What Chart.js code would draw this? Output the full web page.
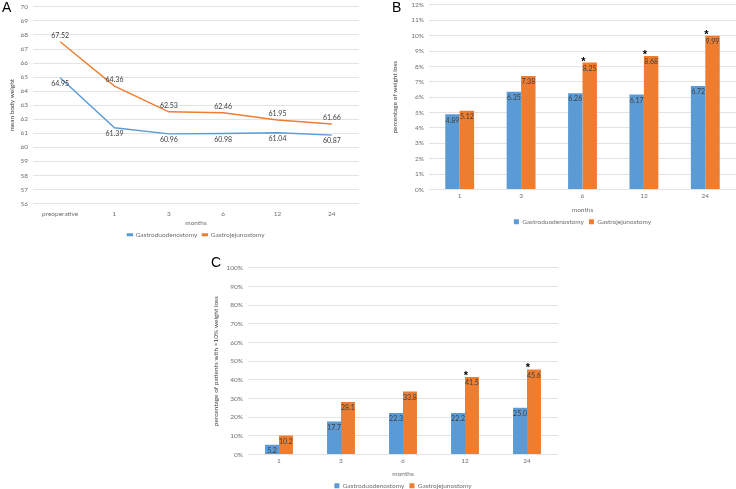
<!DOCTYPE html>
<html><head><meta charset="utf-8">
<script src="https://cdn.jsdelivr.net/npm/chart.js@4"></script>
<style>
html,body{margin:0;padding:0;background:#fff;}
#wrap{position:relative;width:736px;height:489px;overflow:hidden;}
.box{position:absolute;}
.letter{position:absolute;font-family:'Liberation Sans',Arial,sans-serif;font-size:14px;color:#000;line-height:14px;}
</style></head>
<body><div id="wrap">
<div class="box" style="left:0;top:-2px;width:368px;height:250px"><canvas id="cA"></canvas></div>
<div class="box" style="left:368px;top:-4px;width:368px;height:239px"><canvas id="cB"></canvas></div>
<div class="box" style="left:195px;top:259px;width:363px;height:240px"><canvas id="cC"></canvas></div>
<div class="letter" style="left:2px;top:0px">A</div>
<div class="letter" style="left:392px;top:0px">B</div>
<div class="letter" style="left:211px;top:255px">C</div>
</div>
<script>
// ---- data ----
const monthsA = ['preoperative', '1', '3', '6', '12', '24'];
const weightGD = [64.95, 61.39, 60.96, 60.98, 61.04, 60.87];
const weightGJ = [67.52, 64.36, 62.53, 62.46, 61.95, 61.66];

const monthsB = ['1', '3', '6', '12', '24'];
const lossGD = [4.89, 6.35, 6.26, 6.17, 6.72];
const lossGJ = [5.12, 7.38, 8.25, 8.68, 9.99];
const sigB = [false, false, true, true, true];

const monthsC = ['1', '3', '6', '12', '24'];
const over10GD = [5.2, 17.7, 22.3, 22.2, 25.0];
const over10GJ = [10.2, 28.1, 33.8, 41.5, 45.6];
const sigC = [false, false, false, true, true];

const seriesNames = ['Gastroduodenostomy', 'Gastrojejunostomy'];

// ---- styles ----
const BLUE = '#5B9BD5', ORANGE = '#ED7D31';
const FONT = 'Lato, "Liberation Sans", sans-serif';
const tickFont = {family: FONT, size: 6.5};
const tickColor = '#6f6f6f';
const gridColor = '#e3e3e3';
const labelFont = '7px ' + FONT;
const labelColor = '#404040';

function labelPlugin(cfgs) {
  return {
    id: 'valueLabels',
    afterDatasetsDraw(chart) {
      const ctx = chart.ctx;
      chart.data.datasets.forEach((ds, i) => {
        const cfg = cfgs[i];
        if (!cfg) return;
        const meta = chart.getDatasetMeta(i);
        meta.data.forEach((el, j) => {
          ctx.save();
          ctx.font = labelFont;
          ctx.fillStyle = labelColor;
          ctx.textAlign = 'center';
          ctx.textBaseline = 'middle';
          ctx.fillText(ds.data[j].toFixed(cfg.decimals), el.x, el.y + cfg.dy);
          if (cfg.stars && cfg.stars[j]) {
            ctx.font = 'bold 11px "Liberation Sans", sans-serif';
            ctx.fillStyle = '#000';
            ctx.textBaseline = 'alphabetic';
            ctx.fillText('*', el.x - el.width / 2 + 1, el.y + 2);
          }
          ctx.restore();
        });
      });
    }
  };
}

function xScale(height, tickPad) {
  return {
    offset: true,
    grid: {display: false, drawTicks: false},
    border: {display: false},
    ticks: {font: tickFont, color: tickColor, padding: tickPad},
    title: {display: true, text: 'months', font: tickFont, color: tickColor, padding: 0},
    afterFit(s) { s.height = height; }
  };
}
function yScale(min, max, step, title, width, fmt, tickPad) {
  return {
    min: min, max: max,
    ticks: {stepSize: step, font: tickFont, color: tickColor, padding: tickPad, callback: fmt},
    grid: {color: gridColor, drawTicks: false, lineWidth: 1},
    border: {display: false},
    title: {display: true, text: title, font: tickFont, color: '#404040', padding: 0},
    afterFit(s) { s.width = width; }
  };
}
function legendOpts(lineStyle) {
  return {
    position: 'bottom', fullSize: false,
    labels: {boxWidth: 5, boxHeight: lineStyle ? 1.5 : 5, font: tickFont, color: tickColor, padding: 5}
  };
}

// ---- A ----
new Chart(document.getElementById('cA'), {
  type: 'line',
  data: {labels: monthsA, datasets: [
    {label: seriesNames[0], data: weightGD, borderColor: BLUE, backgroundColor: BLUE, borderWidth: 1.4, pointRadius: 0, tension: 0},
    {label: seriesNames[1], data: weightGJ, borderColor: ORANGE, backgroundColor: ORANGE, borderWidth: 1.4, pointRadius: 0, tension: 0}
  ]},
  options: {
    responsive: true, maintainAspectRatio: false, animation: false,
    layout: {padding: {left: 8, right: 9, top: 0, bottom: 0}},
    scales: {
      x: xScale(23, 7),
      y: yScale(56, 70, 1, 'mean body weight', 25, v => v, 5)
    },
    plugins: {legend: legendOpts(true), tooltip: {enabled: false}}
  },
  plugins: [labelPlugin([{decimals: 2, dy: 6}, {decimals: 2, dy: -6}])]
});

// ---- B ----
new Chart(document.getElementById('cB'), {
  type: 'bar',
  data: {labels: monthsB, datasets: [
    {label: seriesNames[0], data: lossGD, backgroundColor: BLUE, categoryPercentage: 0.47, barPercentage: 1},
    {label: seriesNames[1], data: lossGJ, backgroundColor: ORANGE, categoryPercentage: 0.47, barPercentage: 1}
  ]},
  options: {
    responsive: true, maintainAspectRatio: false, animation: false,
    layout: {padding: {left: 23, right: 0, top: 0, bottom: 0}},
    scales: {
      x: xScale(24, 3),
      y: yScale(0, 12, 1, 'percentage of weight loss', 38, v => v + '%', 5)
    },
    plugins: {legend: legendOpts(false), tooltip: {enabled: false}}
  },
  plugins: [labelPlugin([{decimals: 2, dy: 6}, {decimals: 2, dy: 6, stars: sigB}])]
});

// ---- C ----
new Chart(document.getElementById('cC'), {
  type: 'bar',
  data: {labels: monthsC, datasets: [
    {label: seriesNames[0], data: over10GD, backgroundColor: BLUE, categoryPercentage: 0.45, barPercentage: 1},
    {label: seriesNames[1], data: over10GJ, backgroundColor: ORANGE, categoryPercentage: 0.45, barPercentage: 1}
  ]},
  options: {
    responsive: true, maintainAspectRatio: false, animation: false,
    layout: {padding: {left: 17, right: 0, top: 0, bottom: 0}},
    scales: {
      x: xScale(23, 3),
      y: yScale(0, 100, 10, 'percentage of patients with >10% weight loss', 36, v => v + '%', 5)
    },
    plugins: {legend: legendOpts(false), tooltip: {enabled: false}}
  },
  plugins: [labelPlugin([{decimals: 1, dy: 6}, {decimals: 1, dy: 6, stars: sigC}])]
});
</script>
</body></html>
